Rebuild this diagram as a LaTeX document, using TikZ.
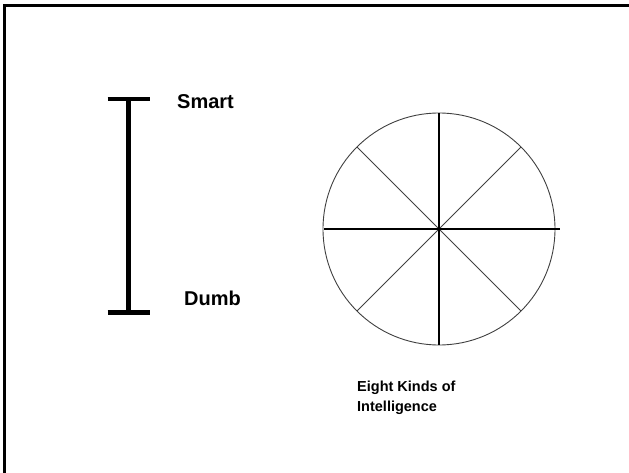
\documentclass[tikz,border=0pt]{standalone}
\usepackage{fontspec}
\setmainfont{Liberation Sans}
\begin{document}
\begin{tikzpicture}[x=1pt,y=-1pt,
  frame/.style={line width=3pt,black},
  barline/.style={line width=4.5pt,black},
  spoke/.style={line width=0.9pt,black!75},
  axis/.style={line width=1.1pt,black},
  lbl/.style={inner sep=0pt,anchor=base west,font=\bfseries\fontsize{20}{22}\selectfont},
  captext/.style={inner sep=0pt,anchor=base west,align=left,font=\bfseries\fontsize{14.5}{20}\selectfont}]
\useasboundingbox (0,0) rectangle (629,473);
% frame
\coordinate (fbl) at (4.5,473);
\coordinate (ftl) at (4.5,5.5);
\coordinate (ftr) at (629,5.5);
\draw[frame] (fbl) -- (ftl) -- (ftr);
% scale bar
\coordinate (bt) at (128.7,99);
\coordinate (bb) at (128.7,312.3);
\coordinate (btl) at (107.7,99);
\coordinate (btr) at (150,99);
\coordinate (bbl) at (107.7,312.3);
\coordinate (bbr) at (150,312.3);
\draw[barline] (bt) -- (bb);
\draw[barline] (btl) -- (btr);
\draw[barline] (bbl) -- (bbr);
\node[lbl] (smart) at (177,108.5) {Smart};
\node[lbl] (dumb) at (184,305.5) {Dumb};
% circle
\coordinate (c) at (439,229);
\draw[spoke] (c) circle[radius=116];
\draw[spoke] (c) -- ++(45:116);
\draw[spoke] (c) -- ++(135:116);
\draw[spoke] (c) -- ++(225:116);
\draw[spoke] (c) -- ++(315:116);
\coordinate (hl) at (324,229);
\coordinate (hr) at (560,229);
\coordinate (vt) at (439,113);
\coordinate (vb) at (439,345);
\draw[axis] (hl) -- (hr);
\draw[axis] (vt) -- (vb);
\node[captext] (eight) at (357,411) {Eight Kinds of\\Intelligence};
\end{tikzpicture}
\end{document}
